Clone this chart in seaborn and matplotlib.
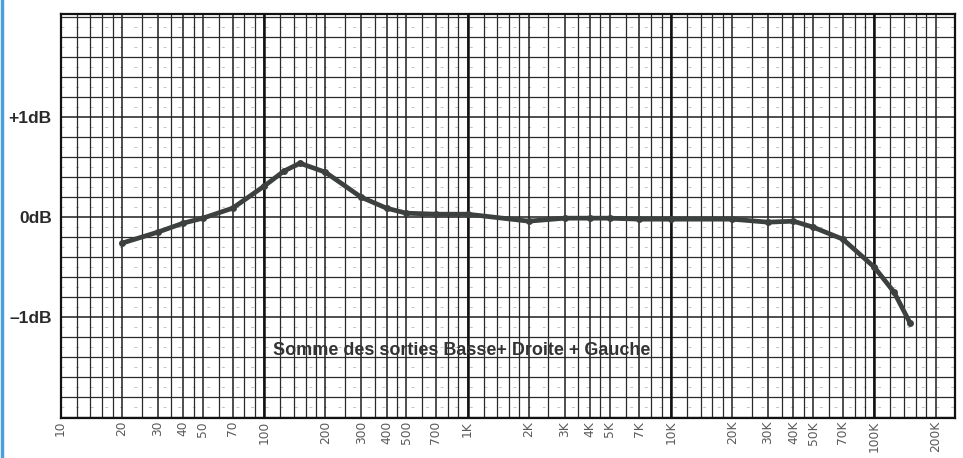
import numpy as np
import matplotlib
matplotlib.use("Agg")
import matplotlib.pyplot as plt
import seaborn as sns
from matplotlib.ticker import FixedLocator, NullFormatter

# === Data ===
freq_hz = [20, 30, 40, 50, 70, 100, 125, 150, 200, 300, 400, 500, 700,
           1000, 2000, 3000, 4000, 5000, 7000, 10000, 20000, 30000, 40000,
           50000, 70000, 100000, 125000, 150000]
level_db = [-0.26, -0.15, -0.06, -0.01, 0.09, 0.31, 0.46, 0.54, 0.45, 0.20,
            0.09, 0.04, 0.03, 0.03, -0.04, -0.01, -0.01, -0.01, -0.02, -0.02,
            -0.02, -0.05, -0.04, -0.10, -0.22, -0.50, -0.75, -1.06]

xtick_values = [10, 20, 30, 40, 50, 70, 100, 200, 300, 400, 500, 700,
                1000, 2000, 3000, 4000, 5000, 7000, 10000, 20000, 30000,
                40000, 50000, 70000, 100000, 200000]
xtick_labels = ["10", "20", "30", "40", "50", "70", "100", "200", "300", "400",
                "500", "700", "1K", "2K", "3K", "4K", "5K", "7K", "10K", "20K",
                "30K", "40K", "50K", "70K", "100K", "200K"]
ytick_values = [1, 0, -1]
ytick_labels = ["+1dB", "0dB", "\u20131dB"]
caption = "Somme des sorties Basse+ Droite + Gauche"

# === Style ===
sns.set_style("white")
plt.rcParams["font.family"] = ["Liberation Sans", "DejaVu Sans"]

fig = plt.figure(figsize=(9.63, 4.58), dpi=100)
ax = fig.add_axes([0.063, 0.087, 0.929, 0.882])
ax.set_xscale("log")
ax.set_xlim(10, 250000)
ax.set_ylim(-2.01, 2.03)

# semilog paper grid
mantissas = [1, 1.2, 1.4, 1.6, 1.8, 2, 2.5, 3, 3.5, 4, 4.5, 5, 6, 7, 8, 9]
grid_x = [m * 10 ** d for d in range(1, 6) for m in mantissas]
ax.xaxis.set_minor_locator(FixedLocator(grid_x))
ax.xaxis.set_minor_formatter(NullFormatter())
ax.yaxis.set_minor_locator(FixedLocator(np.arange(-2.0, 2.01, 0.2)))
ax.grid(which="minor", axis="both", color="#2a2a2a", lw=0.9)
ax.grid(which="major", axis="both", color="#1e1e1e", lw=1.1)
for d in [100, 1000, 10000, 100000]:
    ax.axvline(d, color="#111111", lw=1.8, zorder=1)
# faint dashed intermediate lines (scanned paper look)
for yv in np.arange(-1.9, 2.0, 0.2):
    ax.axhline(yv, color="#c4c4c4", lw=0.7, ls=(0, (3, 12)), zorder=0.5)

# === Curve ===
sns.lineplot(x=freq_hz, y=level_db, ax=ax, color="#3c403f", lw=3.4,
             marker="o", markersize=5, markeredgewidth=0, zorder=5)

# === Ticks & labels ===
ax.set_xticks(xtick_values)
ax.set_xticklabels(xtick_labels, rotation=90, fontsize=8.8, color="#5a5a5a",
                   family="DejaVu Sans")
ax.tick_params(axis="x", which="both", length=0, pad=2)
ax.set_yticks(ytick_values)
ax.set_yticklabels(ytick_labels, fontsize=12.5, fontweight="bold", color="#2a2a2a")
ax.tick_params(axis="y", which="major", length=5.5, width=1.6, color="#2a2a2a",
               direction="out", pad=1)
ax.tick_params(axis="y", which="minor", length=0)

for s in ax.spines.values():
    s.set_visible(True)
    s.set_color("#111111")
    s.set_linewidth(1.6)

ax.text(0.4485, 0.168, caption, transform=ax.transAxes, ha="center",
        va="center", fontsize=13, fontweight="bold", color="#333333", zorder=6)

ax.set_xlabel("")
ax.set_ylabel("")

# blue frame line at the left edge of the scan
fig.add_artist(plt.Line2D([0.002, 0.002], [0, 1], color="#4a9fdc", lw=2.5,
                          transform=fig.transFigure))

fig.savefig("out.png", dpi=100, facecolor="white")
